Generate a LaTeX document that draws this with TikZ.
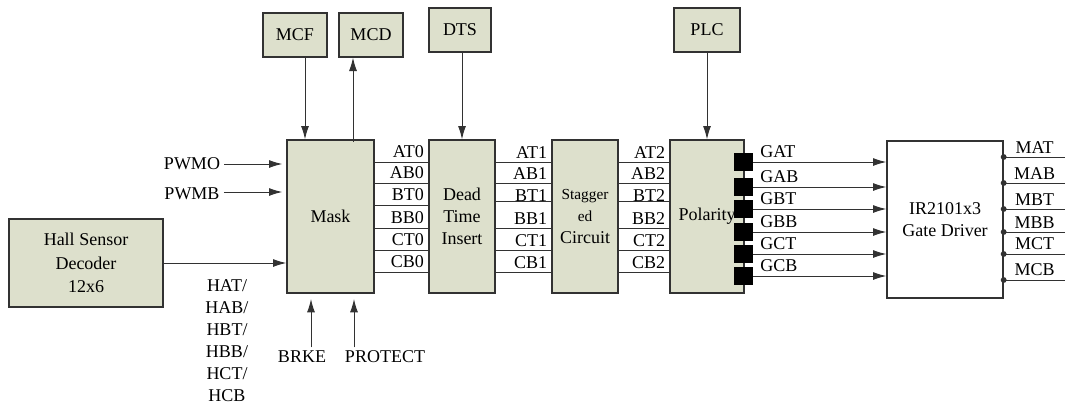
\documentclass[tikz,border=0pt]{standalone}
\usepackage{fontspec}
\setmainfont{Liberation Serif}
\usetikzlibrary{arrows.meta,positioning}
\definecolor{blkfill}{RGB}{221,224,204}
\definecolor{edge}{RGB}{50,50,50}

\begin{document}
\begin{tikzpicture}[
            x=0.75pt, y=-0.75pt,
            font=\rmfamily\fontsize{13.5}{16.5}\selectfont,
            blk/.style={rectangle, draw=edge, line width=1pt, fill=blkfill, inner sep=0pt, align=center}, % 模块框
            arrow/.style={line width=0.75pt, draw=edge, -{Latex[length=10pt,width=6pt]}},
            sig/.style={line width=0.75pt, draw=edge},
            lbl/.style={inner xsep=3pt, inner ysep=2.5pt}, % 信号名
            pinbox/.style={rectangle, fill=black, minimum size=14pt, inner sep=0pt}
        ]
        \useasboundingbox (0,0) rectangle (1065,404);

        % 定义节点
        \node (mcf) [blk, minimum width=48pt, minimum height=33pt] at (295,35) {MCF};
        \node (mcd) [blk, minimum width=48pt, minimum height=33pt] at (371,35) {MCD};
        \node (dts) [blk, minimum width=46.5pt, minimum height=33pt] at (460,30) {DTS};
        \node (plc) [blk, minimum width=49.5pt, minimum height=33pt] at (707,30) {PLC};
        \node (hall) [blk, minimum width=115.5pt, minimum height=66pt, font=\fontsize{13.5}{17.5}\selectfont] at (86,263) {Hall Sensor\\Decoder\\12x6};
        \node (mask) [blk, minimum width=65.25pt, minimum height=114.75pt] at (330.5,216.5) {Mask};
        \node (dt) [blk, minimum width=49.5pt, minimum height=114.75pt] at (462,216.5) {Dead\\Time\\Insert};
        \node (stag) [blk, minimum width=49.5pt, minimum height=114.75pt] at (585,216.5) {{\fontsize{11.5}{16}\selectfont Stagger}\\{\fontsize{11.5}{16}\selectfont ed}\\Circuit};
        \node (pol) [blk, minimum width=55.5pt, minimum height=114.75pt] at (707,216.5) {Polarity};
        \node (gd) [blk, fill=white, minimum width=87pt, minimum height=117.75pt, font=\fontsize{13.5}{16}\selectfont] at (945,219.5) {IR2101x3\\Gate Driver};

        % 输入信号
        \node (pwmo) [lbl] at (192,164) {PWMO};
        \node (pwmb) [lbl] at (192,194) {PWMB};
        \node (brke) [lbl] at (302,357) {BRKE};
        \node (prot) [lbl] at (385,357) {PROTECT};
        \node (hsig) [lbl, align=center, anchor=north] at (227,276) {HAT/\\HAB/\\HBT/\\HBB/\\HCT/\\HCB};

        \draw [arrow, shorten >=3pt] (pwmo.east) -- (mask.west |- pwmo.east);
        \draw [arrow, shorten >=3pt] (pwmb.east |- 0,192) -- (mask.west |- 0,192);
        \draw [arrow] (hall.east) -- (mask.west |- hall.east);
        \draw [arrow, shorten >=4pt] (brke.north -| 311,0) -- (mask.south -| 311,0);
        \draw [arrow, shorten >=4pt] (prot.north -| 354,0) -- (mask.south -| 354,0);

        % 上方控制
        \draw [arrow] (mcf.south -| 305,0) -- (mask.north -| 305,0);
        \draw [arrow] ([yshift=-2pt]mask.north -| 353,0) -- (mcd.south -| 353,0);
        \draw [arrow] (dts.south -| dt.north) -- (dt.north);
        \draw [arrow] (plc.south) -- (pol.north);

        % 各级之间的六路信号
        \foreach \y/\z/\a/\b/\c in {162/162/AT0/AT1/AT2, 183/183/AB0/AB1/AB2, 205/201/BT0/BT1/BT2,
                                    228/228/BB0/BB1/BB2, 250/250/CT0/CT1/CT2, 272/272/CB0/CB1/CB2} {
            \draw [sig] (mask.east |- 0,\y) -- (dt.west |- 0,\y) node[lbl, anchor=south east] {\a};
            \draw [sig] (dt.east |- 0,\z) -- (stag.west |- 0,\z);
            \draw [sig] (stag.east |- 0,\z) -- (pol.west |- 0,\z);
            \node [lbl, anchor=south east] at (stag.west |- 0,\y) {\b};
            \node [lbl, anchor=south east] at (pol.west |- 0,\y) {\c};
        }

        % 极性输出到驱动
        \foreach \y/\g [count=\i] in {162/GAT, 187/GAB, 209/GBT, 232/GBB, 254/GCT, 276/GCB} {
            \node (pin\i) [pinbox] at (743.5,\y) {};
            \draw [arrow] (pin\i.east) node[lbl, anchor=south west, xshift=2pt] {\g} -- (gd.west |- pin\i.east);
        }

        % 驱动输出
        \foreach \y/\m [count=\i] in {157/MAT, 183/MAB, 209/MBT, 232/MBB, 254/MCT, 280/MCB} {
            \coordinate (out\i) at (gd.east |- 0,\y);
            \draw [sig] (out\i) -- ++(62,0) coordinate (end\i) node[midway, lbl, anchor=south] {\m};
            \fill [edge] (out\i) circle (2.2pt);
        }

        \end{tikzpicture}
\end{document}
